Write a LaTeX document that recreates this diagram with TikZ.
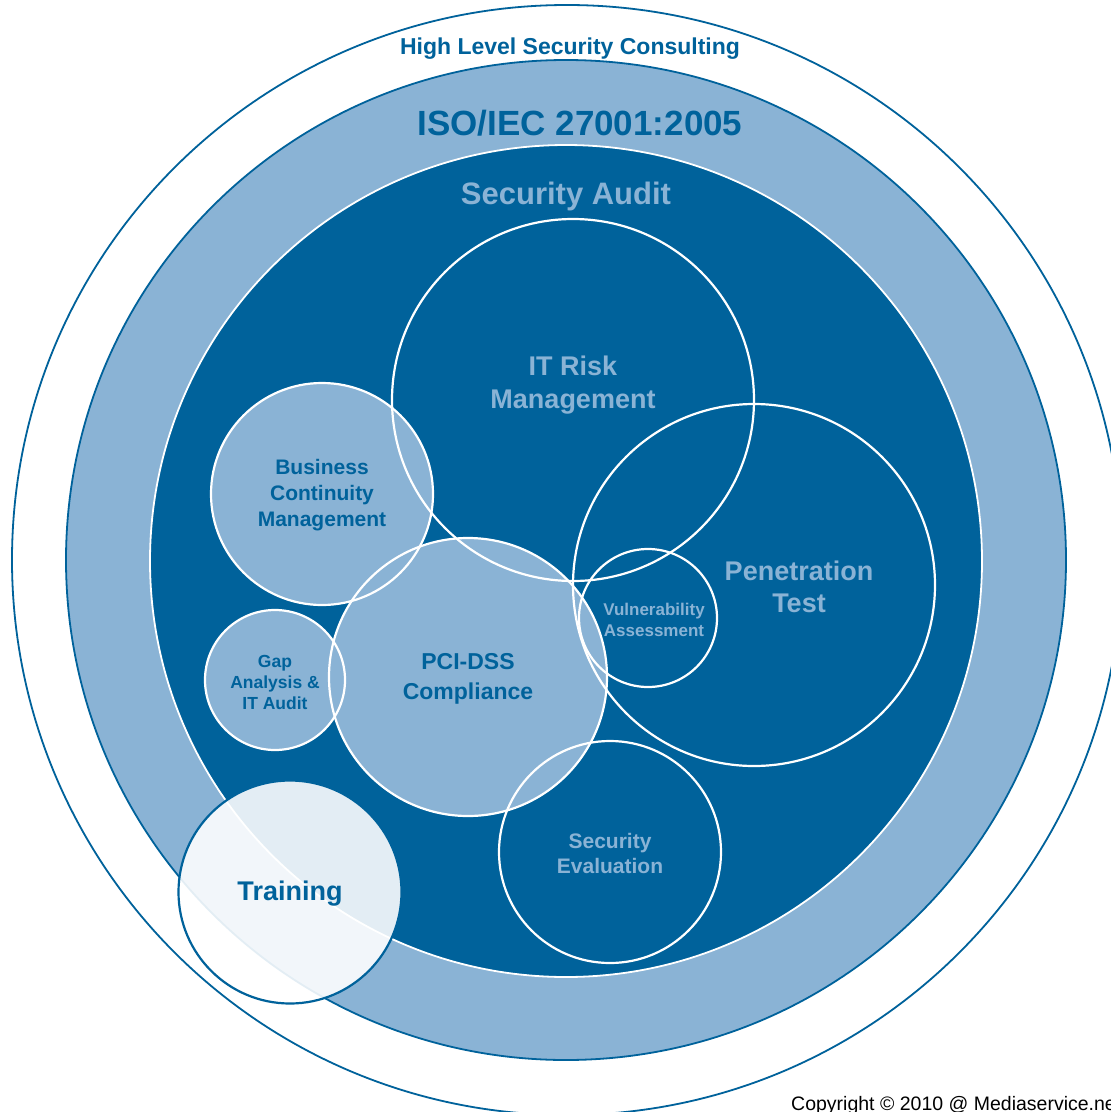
\documentclass[tikz,border=0pt]{standalone}
\usepackage{fontspec}
\setmainfont{Liberation Sans}
\definecolor{dkblue}{RGB}{0,98,155}
\definecolor{ltblue}{RGB}{138,179,213}
\tikzset{
  x=1pt, y=-1pt,
  ring/.style={circle, inner sep=0pt, outer sep=0pt},
  wline/.style={ring, draw=white, line width=2.2pt},
  lbl/.style={align=center, inner sep=0pt, font=\bfseries},
}
\newcommand{\fs}[2]{\fontsize{#1}{#2}\selectfont}
\begin{document}
\begin{tikzpicture}
\useasboundingbox (0,0) rectangle (1111,1112);
\clip (0,0) rectangle (1111,1112);
\fill[white] (0,0) rectangle (1111,1112);
% centres
\coordinate (c0) at (566,560);
\coordinate (cbcm) at (322,494);
\coordinate (cpci) at (468,677);
\coordinate (cgap) at (275,680);
% outer circle
\node[ring, draw=dkblue, line width=1.8pt, minimum size=1110pt] (outer) at (567,560) {};
% ISO ring
\node[ring, fill=ltblue, draw=dkblue, line width=1.8pt, minimum size=1000pt] (iso) at (c0) {};
% security audit disc
\node[ring, fill=dkblue, draw=white, line width=1.8pt, minimum size=832pt] (audit) at (566,561) {};
% light fills
\fill[ltblue] (cbcm) circle (111);
\fill[ltblue] (cpci) circle (139);
\fill[ltblue] (cgap) circle (70);
% white outlined circles
\node[wline, minimum size=362pt] (itrisk) at (573,400) {};
\node[wline, minimum size=362pt] (pentest) at (754,585) {};
\node[wline, minimum size=138pt] (vuln) at (648,618) {};
\node[wline, minimum size=222pt] (bcm) at (cbcm) {};
\node[wline, minimum size=278pt] (pci) at (cpci) {};
\node[wline, minimum size=140pt] (gap) at (cgap) {};
\node[wline, minimum size=222pt] (seceval) at (610,852) {};
% training
\node[ring, fill=white, fill opacity=0.89, draw=dkblue, draw opacity=1, line width=2.2pt, minimum size=223pt] (training) at (290,892) {};
% labels
\node[lbl, text=dkblue, font=\bfseries\fs{23}{28}] (tHL) at (570,49) {High Level Security Consulting};
\node[lbl, text=dkblue, font=\bfseries\fs{35}{40}] (tISO) at (580,123) {ISO/IEC 27001:2005};
\node[lbl, text=ltblue, font=\bfseries\fs{31}{36}] (tSA) at (566,196) {Security Audit};
\node[lbl, text=ltblue, font=\bfseries\fs{27}{33}] (tIT) at (573,385) {IT Risk\\Management};
\node[lbl, text=ltblue, font=\bfseries\fs{27}{32}] (tPT) at (799,587) {Penetration\\Test};
\node[lbl, text=ltblue, font=\bfseries\fs{17}{21}] (tVA) at (654,620) {Vulnerability\\Assessment};
\node[lbl, text=dkblue, font=\bfseries\fs{21}{26}] (tBCM) at (322,495) {Business\\Continuity\\Management};
\node[lbl, text=dkblue, font=\bfseries\fs{23}{30}] (tPCI) at (468,679) {PCI-DSS\\Compliance};
\node[lbl, text=dkblue, font=\bfseries\fs{17.5}{21}] (tGap) at (275,682) {Gap\\Analysis \&\\IT Audit};
\node[lbl, text=ltblue, font=\bfseries\fs{21}{25}] (tSE) at (610,853) {Security\\Evaluation};
\node[lbl, text=dkblue, font=\bfseries\fs{27}{32}] (tTr) at (290,894) {Training};
\node[anchor=base west, inner sep=0pt, font=\fs{19.5}{22}] (tCopy) at (791,1110) {Copyright © 2010 @ Mediaservice.net};
\end{tikzpicture}
\end{document}
